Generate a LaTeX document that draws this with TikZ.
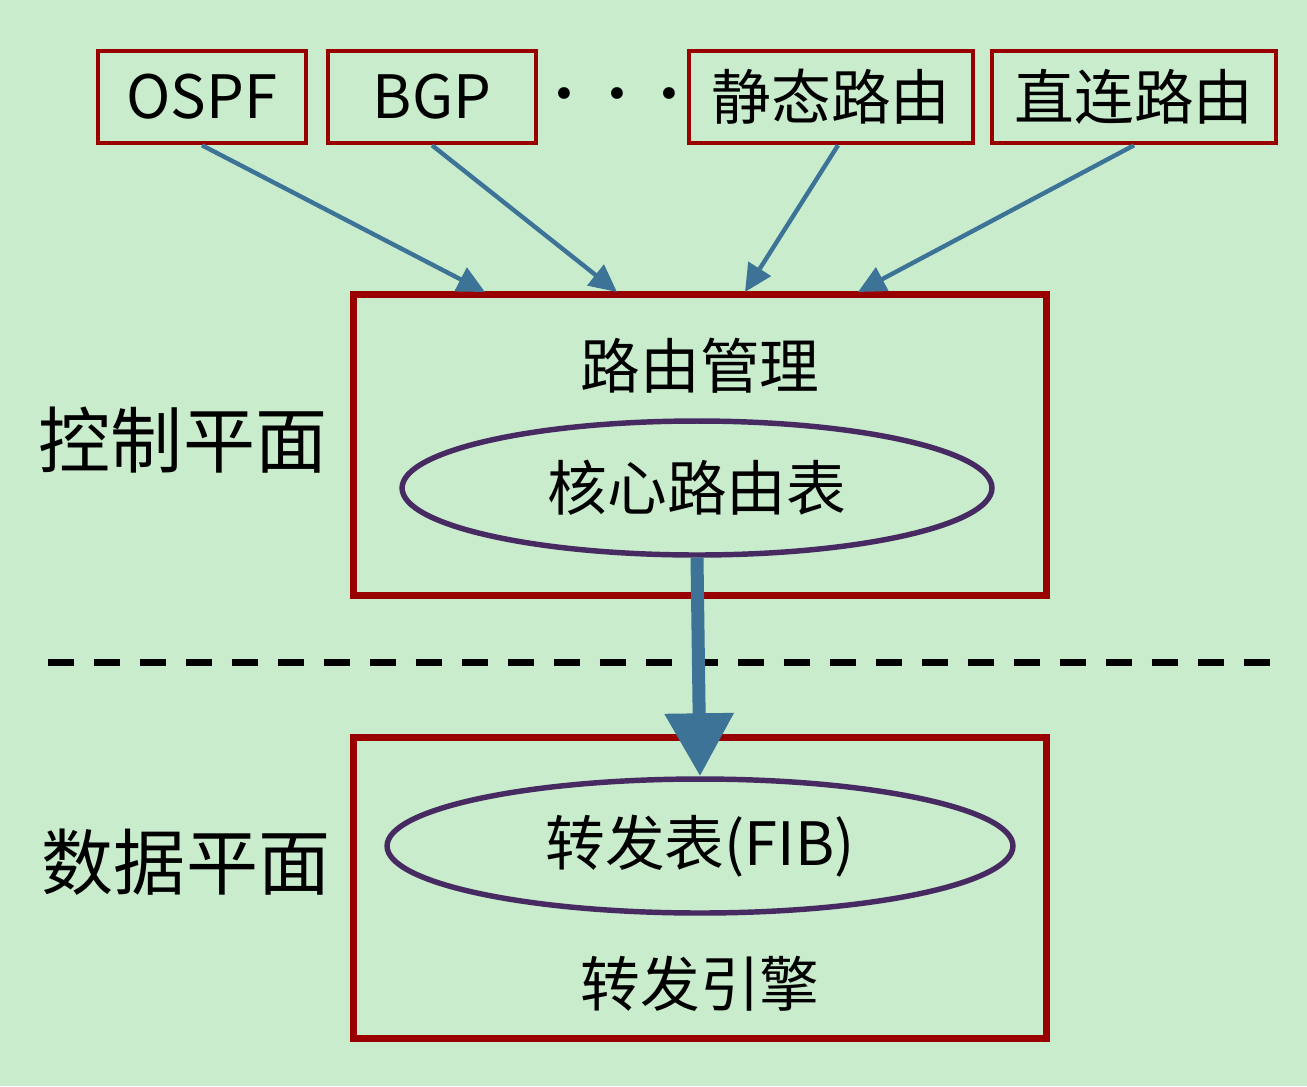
\documentclass[tikz,border=0pt]{standalone}
\usepackage{fontspec}
\setmainfont{Noto Sans CJK SC}
\newfontfamily\dotfont{DejaVu Sans}
\usetikzlibrary{arrows.meta,shapes.geometric}
\definecolor{bggreen}{HTML}{C8ECCC}
\definecolor{boxred}{HTML}{990000}
\definecolor{ovalpurple}{HTML}{472A62}
\definecolor{arrowblue}{HTML}{3D7396}
\tikzset{
  src/.style={draw=boxred, line width=2.6pt, minimum height=1.84cm, inner sep=0pt,
    font=\fontsize{34}{40}\selectfont},
  plane/.style={draw=boxred, line width=3.6pt, minimum width=13.86cm, minimum height=6.02cm},
  oval/.style={draw=ovalpurple, ellipse, line width=3.1pt, minimum height=2.68cm, inner sep=0pt,
    font=\fontsize{34}{40}\selectfont},
  txt/.style={inner sep=0pt, font=\fontsize{34}{40}\selectfont},
  side/.style={inner sep=0pt, font=\fontsize{41}{48}\selectfont},
  feed/.style={draw=arrowblue, line width=2.5pt, -{Triangle[width=0.52cm, length=0.55cm]}},
  push/.style={draw=arrowblue, line width=7.4pt, -{Triangle[width=1.32cm, length=1.26cm]}}
}

\begin{document}
\begin{tikzpicture}[x=0.02cm, y=-0.02cm]
\fill[bggreen] (0,0) rectangle (1307,1086);
\useasboundingbox (0,0) rectangle (1307,1086);

% routing sources
\node[src, minimum width=4.16cm] (ospf) at (202,97) {OSPF};
\node[src, minimum width=4.16cm] (bgp) at (432,97) {BGP};
\node[inner sep=0pt, font=\dotfont\fontsize{23}{23}\selectfont] (dots) at (617,98)
  {•\hspace{0.57cm}•\hspace{0.57cm}•};
\node[src, minimum width=5.68cm] (static) at (831,97) {静态路由};
\node[src, minimum width=5.68cm] (direct) at (1134,97) {直连路由};

% control plane
\node[plane] (ctrl) at (700,445) {};
\node[txt] (mgmt) at (700,366) {路由管理};
\node[oval, minimum width=11.8cm] (core) at (697,488) {核心路由表};
\node[side] (ctrllabel) at (183,440) {控制平面};

% data plane
\node[plane] (data) at (700,888) {};
\node[oval, minimum width=12.52cm] (fib) at (700,846) {转发表(FIB)};
\node[txt] (engine) at (700,984) {转发引擎};
\node[side] (datalabel) at (186,862) {数据平面};

% arrow ends on the control box
\coordinate (in1) at (485,292);
\coordinate (in2) at (617,292);
\coordinate (in3) at (745,292);
\coordinate (in4) at (858,292);
\coordinate (cutl) at (48,662);
\coordinate (cutr) at (1278,662);

\draw[line width=4pt, dash pattern=on 0.52cm off 0.4cm] (cutl) -- (cutr);

\draw[feed] (ospf.south) -- (in1);
\draw[feed] (bgp.south) -- (in2);
\draw[feed] ([xshift=0.14cm]static.south) -- (in3);
\draw[feed] (direct.south) -- (in4);
\draw[push] (core.south) -- (fib.north);
\end{tikzpicture}
\end{document}
